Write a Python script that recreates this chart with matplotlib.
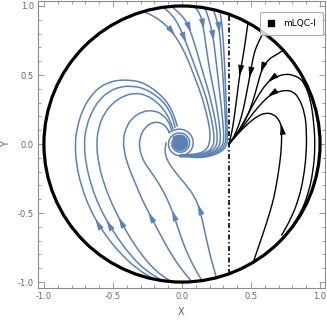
import numpy as np
import matplotlib
matplotlib.use('Agg')
import matplotlib.pyplot as plt
from matplotlib.lines import Line2D
from matplotlib.path import Path
from matplotlib.patches import PathPatch

# ---------------- data ----------------
BLUE = '#5E81B5'
GRAY = '#8c8c8c'
LABEL_GRAY = '#666666'

legend_label = 'mLQC-I'
x_ticks = [-1.0, -0.5, 0.0, 0.5, 1.0]
y_ticks = [-1.0, -0.5, 0.0, 0.5, 1.0]
separatrix_x = 0.338

# blue curves coming from the top of the circle (flow downward)
top_curves = [
    [(-0.28, 0.96), (-0.2, 0.925), (-0.12, 0.865), (-0.063, 0.802), (-0.01, 0.72), (0.04, 0.62),
     (0.085, 0.50), (0.125, 0.40), (0.16, 0.29), (0.19, 0.17), (0.205, 0.08), (0.2, 0.0),
     (0.17, -0.05), (0.1, -0.075), (0.03, -0.075), (-0.015, -0.08)],
    [(-0.135, 0.99), (-0.07, 0.935), (-0.02, 0.855), (0.022, 0.754), (0.065, 0.64), (0.11, 0.52),
     (0.15, 0.41), (0.18, 0.32), (0.205, 0.22), (0.225, 0.12), (0.235, 0.03), (0.22, -0.03),
     (0.17, -0.065), (0.1, -0.08), (0.03, -0.078), (-0.015, -0.082)],
    [(-0.075, 0.997), (-0.01, 0.94), (0.03, 0.89), (0.058, 0.826), (0.09, 0.73), (0.125, 0.61),
     (0.16, 0.49), (0.19, 0.39), (0.215, 0.29), (0.24, 0.18), (0.255, 0.08), (0.255, 0.0),
     (0.23, -0.04), (0.17, -0.07), (0.1, -0.085), (0.03, -0.08), (-0.015, -0.084)],
    [(0.094, 0.996), (0.125, 0.95), (0.145, 0.9), (0.154, 0.85), (0.17, 0.74), (0.19, 0.6),
     (0.215, 0.46), (0.24, 0.34), (0.26, 0.22), (0.275, 0.11), (0.28, 0.02), (0.26, -0.035),
     (0.2, -0.07), (0.12, -0.09), (0.04, -0.084), (-0.015, -0.086)],
    [(0.167, 0.986), (0.19, 0.92), (0.21, 0.85), (0.227, 0.766), (0.24, 0.66), (0.255, 0.53),
     (0.27, 0.4), (0.285, 0.27), (0.298, 0.14), (0.305, 0.04), (0.29, -0.02), (0.24, -0.06),
     (0.16, -0.09), (0.08, -0.092), (0.03, -0.086), (-0.015, -0.088)],
    [(0.227, 0.974), (0.245, 0.92), (0.26, 0.87), (0.27, 0.826), (0.28, 0.72), (0.29, 0.58),
     (0.3, 0.44), (0.308, 0.3), (0.315, 0.16), (0.32, 0.05), (0.31, -0.01), (0.27, -0.055),
     (0.2, -0.085), (0.12, -0.095), (0.04, -0.088), (-0.015, -0.09)],
    [(0.275, 0.961), (0.285, 0.9), (0.295, 0.8), (0.303, 0.68), (0.31, 0.54), (0.316, 0.4),
     (0.322, 0.26), (0.327, 0.12), (0.33, 0.03), (0.32, -0.02), (0.28, -0.06), (0.2, -0.09),
     (0.12, -0.1), (0.045, -0.092), (-0.015, -0.092)],
]
top_arrow_idx = [3, 3, 3, 3, 3, 3, None]

# blue curves coming from the bottom of the circle (flow upward, then into the spiral)
bottom_curves = [
    [(-0.20, -0.98), (-0.32, -0.91), (-0.44, -0.80), (-0.54, -0.68), (-0.616, -0.565), (-0.68, -0.44),
     (-0.73, -0.30), (-0.765, -0.15), (-0.775, 0.0), (-0.76, 0.12), (-0.72, 0.25), (-0.66, 0.35),
     (-0.594, 0.415), (-0.52, 0.45), (-0.449, 0.464), (-0.37, 0.462), (-0.304, 0.451), (-0.24, 0.42),
     (-0.183, 0.379), (-0.13, 0.33), (-0.087, 0.27), (-0.055, 0.2), (-0.035, 0.13)],
    [(-0.14, -0.99), (-0.26, -0.92), (-0.37, -0.81), (-0.46, -0.69), (-0.536, -0.572), (-0.60, -0.45),
     (-0.655, -0.31), (-0.695, -0.15), (-0.71, 0.0), (-0.695, 0.12), (-0.655, 0.23), (-0.60, 0.32),
     (-0.53, 0.38), (-0.45, 0.415), (-0.36, 0.42), (-0.28, 0.405), (-0.20, 0.36), (-0.14, 0.31),
     (-0.095, 0.25), (-0.065, 0.18), (-0.05, 0.12)],
    [(-0.08, -0.995), (-0.18, -0.93), (-0.28, -0.82), (-0.37, -0.69), (-0.449, -0.551), (-0.51, -0.43),
     (-0.565, -0.29), (-0.605, -0.14), (-0.62, 0.0), (-0.605, 0.12), (-0.565, 0.22), (-0.50, 0.30),
     (-0.42, 0.35), (-0.34, 0.37), (-0.26, 0.355), (-0.19, 0.31), (-0.13, 0.25), (-0.09, 0.18),
     (-0.065, 0.11)],
    [(0.07, -0.995), (-0.01, -0.90), (-0.09, -0.78), (-0.16, -0.65), (-0.232, -0.514), (-0.29, -0.40),
     (-0.34, -0.28), (-0.39, -0.16), (-0.42, -0.05), (-0.425, 0.04), (-0.405, 0.12), (-0.36, 0.19),
     (-0.29, 0.235), (-0.21, 0.245), (-0.14, 0.215), (-0.095, 0.16), (-0.075, 0.1)],
    [(0.145, -0.99), (0.08, -0.88), (0.02, -0.75), (-0.025, -0.62), (-0.065, -0.50), (-0.11, -0.39),
     (-0.17, -0.28), (-0.24, -0.18), (-0.283, -0.116), (-0.31, -0.03), (-0.305, 0.05), (-0.27, 0.12),
     (-0.21, 0.16), (-0.15, 0.155), (-0.11, 0.12), (-0.09, 0.08)],
    [(0.25, -0.97), (0.21, -0.83), (0.175, -0.68), (0.145, -0.54), (0.123, -0.457), (0.09, -0.38),
     (0.04, -0.31), (-0.01, -0.25), (-0.06, -0.19), (-0.109, -0.116), (-0.125, -0.05), (-0.115, 0.01)],
]
bottom_arrow_idx = [4, 4, 4, 4, 4, 4]

# the focus the blue curves wind into (clockwise): outer turns and dense core
spiral_outer = [
    (-0.096, 0.086), (-0.015, 0.116), (0.061, 0.081), (0.089, 0.005), (0.056, -0.066), (-0.015, -0.092),
    (-0.082, -0.062), (-0.105, 0.005),
    (-0.075, 0.065), (-0.015, 0.087), (0.041, 0.061), (0.061, 0.005), (0.037, -0.047), (-0.015, -0.065),
    (-0.062, -0.042), (-0.079, 0.005), (-0.057, 0.047),
]
spiral_core = [
    (-0.057, 0.047), (-0.015, 0.063), (0.025, 0.045), (0.039, 0.005), (0.022, -0.032), (-0.015, -0.045),
    (-0.049, -0.029), (-0.061, 0.005),
    (-0.046, 0.036), (-0.015, 0.047), (0.013, 0.033), (0.023, 0.005), (0.010, -0.020), (-0.015, -0.029),
    (-0.038, -0.018), (-0.045, 0.005),
    (-0.035, 0.025), (-0.015, 0.031), (0.002, 0.022), (0.007, 0.005), (-0.001, -0.009), (-0.015, -0.013),
    (-0.026, -0.006), (-0.029, 0.005),
    (-0.023, 0.013), (-0.015, 0.016), (-0.008, 0.012), (-0.006, 0.005), (-0.011, -0.001), (-0.015, -0.001),
    (-0.019, 0.001), (-0.019, 0.005),
]

# black (mLQC-I) curves, flowing into the point on the dash-dotted line
black_curves = [
    [(0.478, 0.878), (0.46, 0.75), (0.44, 0.62), (0.42, 0.514), (0.405, 0.40), (0.39, 0.28),
     (0.375, 0.17), (0.36, 0.08), (0.34, 0.0)],
    [(0.589, 0.808), (0.555, 0.74), (0.529, 0.681), (0.51, 0.60), (0.493, 0.50), (0.47, 0.38),
     (0.444, 0.246), (0.41, 0.13), (0.375, 0.05), (0.34, 0.0)],
    [(0.734, 0.679), (0.68, 0.645), (0.638, 0.621), (0.605, 0.585), (0.577, 0.536), (0.55, 0.44),
     (0.517, 0.319), (0.47, 0.19), (0.41, 0.09), (0.34, 0.0)],
    [(0.78, -0.625), (0.86, -0.50), (0.915, -0.36), (0.95, -0.2), (0.965, -0.02), (0.955, 0.16),
     (0.93, 0.33), (0.89, 0.43), (0.855, 0.478), (0.80, 0.50), (0.759, 0.507), (0.70, 0.495),
     (0.638, 0.464), (0.59, 0.41), (0.54, 0.33), (0.48, 0.22), (0.42, 0.11), (0.37, 0.035), (0.34, 0.0)],
    [(0.722, -0.66), (0.79, -0.54), (0.845, -0.40), (0.88, -0.25), (0.9, -0.08), (0.903, 0.08),
     (0.891, 0.225), (0.843, 0.343), (0.80, 0.38), (0.759, 0.39), (0.70, 0.38), (0.638, 0.355),
     (0.58, 0.30), (0.52, 0.23), (0.46, 0.15), (0.40, 0.07), (0.34, 0.0)],
    [(0.517, -0.853), (0.57, -0.70), (0.62, -0.55), (0.655, -0.43), (0.674, -0.35), (0.70, -0.2),
     (0.718, -0.06), (0.722, 0.04), (0.722, 0.125), (0.70, 0.18), (0.66, 0.218), (0.60, 0.226),
     (0.541, 0.198), (0.48, 0.15), (0.42, 0.09), (0.375, 0.04), (0.34, 0.0)],
]
black_arrow_idx = [3, 4, 4, 12, 11, 8]


# ---------------- drawing helpers ----------------
def smooth_path(pts):
    """Quadratic B-spline style path through midpoints of the given points."""
    p = np.asarray(pts, dtype=float)
    verts = [p[0], (p[0] + p[1]) / 2]
    codes = [Path.MOVETO, Path.LINETO]
    for i in range(1, len(p) - 1):
        verts += [p[i], (p[i] + p[i + 1]) / 2]
        codes += [Path.CURVE3, Path.CURVE3]
    verts.append(p[-1])
    codes.append(Path.LINETO)
    return Path(verts, codes)


def draw_curve(ax, pts, color, lw, arrow_i):
    ax.add_patch(PathPatch(smooth_path(pts), fill=False, edgecolor=color, lw=lw,
                           capstyle='round', joinstyle='round', zorder=2))
    if arrow_i is not None:
        p = np.asarray(pts, dtype=float)
        tip = p[arrow_i]
        d = p[min(arrow_i + 1, len(p) - 1)] - p[arrow_i - 1]
        d = d / np.hypot(*d)
        ax.annotate('', xy=tip + 0.02 * d, xytext=tip - 0.02 * d,
                    arrowprops=dict(arrowstyle='-|>,head_length=0.6,head_width=0.17',
                                    color=color, lw=0.8, shrinkA=0, shrinkB=0,
                                    mutation_scale=10),
                    zorder=3)


# ---------------- figure ----------------
fig = plt.figure(figsize=(3.27, 3.21), dpi=100)
ax = fig.add_axes([0.1162, 0.1028, 0.8777, 0.894])

for c, ai in zip(top_curves, top_arrow_idx):
    draw_curve(ax, c, BLUE, 1.1, ai)
for c, ai in zip(bottom_curves, bottom_arrow_idx):
    draw_curve(ax, c, BLUE, 1.1, ai)
draw_curve(ax, spiral_outer, BLUE, 1.1, None)
draw_curve(ax, spiral_core, BLUE, 2.2, None)
for c, ai in zip(black_curves, black_arrow_idx):
    draw_curve(ax, c, 'black', 1.0, ai)

# unit circle
circ = plt.Circle((0, 0), 1.0, fill=False, edgecolor='black', lw=2.3, zorder=4)
ax.add_patch(circ)

# dash-dotted separatrix
ys = np.sqrt(1 - separatrix_x ** 2)
ax.plot([separatrix_x, separatrix_x], [-ys, ys], color='black', lw=1.2,
        linestyle=(0, (3.0, 1.5, 0.9, 1.5)), zorder=3)

ax.set_xlim(-1.043, 1.036)
ax.set_ylim(-1.043, 1.036)

ax.set_xticks(x_ticks)
ax.set_yticks(y_ticks)
ax.set_xticklabels([f'{v:.1f}' for v in x_ticks])
ax.set_yticklabels([f'{v:.1f}' for v in y_ticks])
ax.set_xticks(np.arange(-1.0, 1.01, 0.1), minor=True)
ax.set_yticks(np.arange(-1.0, 1.01, 0.1), minor=True)
ax.tick_params(which='both', direction='in', top=True, right=True, colors=GRAY,
               labelcolor=LABEL_GRAY, labelsize=6, width=0.6)
ax.tick_params(which='major', length=4, pad=3)
ax.tick_params(which='minor', length=2)
for s in ax.spines.values():
    s.set_color(GRAY)
    s.set_linewidth(0.8)

ax.set_xlabel('X', color=LABEL_GRAY, fontsize=7, labelpad=4)
ax.set_ylabel('Y', color=LABEL_GRAY, fontsize=7, labelpad=5)

handle = Line2D([], [], marker='s', color='black', linestyle='', markersize=5)
leg = ax.legend([handle], [legend_label], loc='upper right', bbox_to_anchor=(0.993, 0.962),
                fontsize=6.5, frameon=True, fancybox=True, handlelength=0.8, handletextpad=0.9,
                borderpad=0.8, borderaxespad=0.0)
leg.get_frame().set_edgecolor('#999999')
leg.get_frame().set_linewidth(0.8)
leg.set_zorder(6)

fig.savefig('out.png', dpi=100)
